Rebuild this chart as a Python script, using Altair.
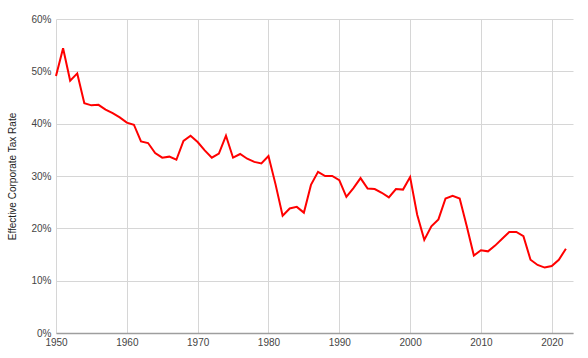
import altair as alt
import pandas as pd

years = list(range(1950, 2023))
rates = [
    49.1, 54.4, 48.2, 49.6, 43.9, 43.5, 43.6, 42.7, 42.0, 41.2,
    40.2, 39.8, 36.6, 36.3, 34.4, 33.5, 33.7, 33.1, 36.7, 37.7,
    36.5, 34.9, 33.5, 34.3, 37.7, 33.5, 34.2, 33.3, 32.7, 32.4,
    33.8, 28.4, 22.4, 23.8, 24.1, 23.0, 28.3, 30.8, 30.0, 30.0,
    29.2, 26.0, 27.7, 29.6, 27.6, 27.5, 26.8, 25.9, 27.5, 27.4,
    29.8, 22.6, 17.8, 20.4, 21.7, 25.7, 26.2, 25.7, 20.4, 14.8,
    15.8, 15.6, 16.7, 18.0, 19.3, 19.3, 18.5, 14.0, 13.0, 12.5,
    12.8, 14.0, 16.1,
]
x_ticks = [1950, 1960, 1970, 1980, 1990, 2000, 2010, 2020]
y_ticks = [0, 0.1, 0.2, 0.3, 0.4, 0.5, 0.6]

df = pd.DataFrame({"year": years, "rate": [r / 100 for r in rates]})

font = "Liberation Sans"

chart = (
    alt.Chart(df)
    .mark_line(color="#ff0000", strokeWidth=2, strokeJoin="miter")
    .encode(
        x=alt.X(
            "year:Q",
            scale=alt.Scale(domain=[1950, 2023], nice=False, zero=False),
            axis=alt.Axis(
                values=x_ticks,
                format="d",
                title=None,
                ticks=False,
                domain=True,
                domainColor="#9e9e9e",
                domainWidth=1.5,
                grid=True,
                gridColor="#d6d6d6",
                labelFont=font,
                labelFontSize=10,
                labelColor="#444444",
                labelPadding=4,
                labelFlush=False,
                labelOverlap=False,
            ),
        ),
        y=alt.Y(
            "rate:Q",
            scale=alt.Scale(domain=[0, 0.6], nice=False),
            axis=alt.Axis(
                values=y_ticks,
                format=".0%",
                title="Effective Corporate Tax Rate",
                titleFont=font,
                titleFontSize=10,
                titleFontWeight="normal",
                titleColor="#222222",
                titleX=-44,
                titleY=157,
                titleAngle=-90,
                titleBaseline="middle",
                titleAlign="center",
                ticks=False,
                domain=False,
                grid=True,
                gridColor="#d6d6d6",
                labelFont=font,
                labelFontSize=10,
                labelColor="#444444",
                labelPadding=5,
                labelFlush=False,
                labelOverlap=False,
            ),
        ),
    )
    .properties(
        width=517,
        height=314,
        autosize=alt.AutoSizeParams(type="none"),
        padding={"left": 56, "top": 19, "right": 15, "bottom": 25},
    )
    .configure_view(stroke=None)
)

chart.save("out.html", embed_options={"renderer": "svg", "actions": False})
